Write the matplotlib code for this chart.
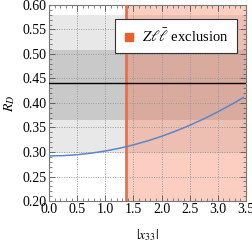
import matplotlib

matplotlib.use("Agg")
import matplotlib.pyplot as plt
from matplotlib.lines import Line2D
from matplotlib.ticker import MultipleLocator

# Theory curve
x33 = [0.0, 0.25, 0.5, 0.75, 1.0, 1.25, 1.5, 1.75, 2.0, 2.25, 2.5, 2.75, 3.0, 3.25, 3.45]
r_d = [0.292, 0.2926, 0.2945, 0.2976, 0.302, 0.3076, 0.3145, 0.3226, 0.332, 0.3426, 0.3545, 0.3676, 0.382, 0.3976, 0.411]

# Experimental average and bands
rd_central = 0.44
band_1sigma = (0.366, 0.508)
band_2sigma = (0.297, 0.580)

# Z l lbar exclusion starts here
x_excl = 1.36
x_max = 3.5

plt.rcParams["font.family"] = ["Liberation Serif", "DejaVu Serif"]
plt.rcParams["mathtext.fontset"] = "stix"

fig = plt.figure(figsize=(2.53, 2.43), dpi=100)
ax = fig.add_axes([49 / 253, 42 / 243, 197 / 253, 196 / 243])

ax.axhspan(*band_2sigma, color="#e8e8e8", lw=0, zorder=0)
ax.axhspan(*band_1sigma, color="#c9c9c9", lw=0, zorder=0.1)
ax.axvspan(x_excl, x_max, color="#f8754f", alpha=0.35, lw=0, zorder=0.5)
ax.axvline(x_excl, color="#e8704c", lw=2.0, zorder=3)
ax.axhline(rd_central, color="black", lw=1.0, zorder=3)
ax.plot(x33, r_d, color="#5b86c9", lw=1.1, zorder=4)

ax.set_xlim(0, x_max)
ax.set_ylim(0.20, 0.60)
ax.xaxis.set_major_locator(MultipleLocator(0.5))
ax.xaxis.set_minor_locator(MultipleLocator(0.1))
ax.yaxis.set_major_locator(MultipleLocator(0.05))
ax.yaxis.set_minor_locator(MultipleLocator(0.01))
ax.set_xticklabels([f"{v:.1f}" for v in ax.get_xticks()])
ax.set_yticklabels([f"{v:.2f}" for v in ax.get_yticks()])
ax.tick_params(which="both", direction="in", top=True, right=True, labelsize=10, pad=1.5, color="#555555")
ax.tick_params(which="major", length=4, width=0.6)
ax.tick_params(which="minor", length=2, width=0.5)
ax.grid(True, which="major", color="#9a9a9a", ls=(0, (1, 1.5)), lw=0.7, zorder=1)
for spine in ax.spines.values():
    spine.set_color("#777777")
    spine.set_linewidth(0.8)

ax.set_xlabel(r"$|x_{33}|$", fontsize=10, labelpad=8)
ax.set_ylabel(r"$R_D$", fontsize=10, labelpad=4)

handle = Line2D([], [], marker="s", ls="none", color="#e8602c", markersize=6)
leg = ax.legend([handle], [r"$Z\ell\bar{\ell}$ exclusion"], loc="upper right",
                fontsize=10.5, frameon=True, fancybox=False, handlelength=0.8,
                handletextpad=0.5, borderpad=0.55, bbox_to_anchor=(0.99, 0.965))
leg.get_frame().set_edgecolor("#333333")
leg.get_frame().set_linewidth(0.8)
leg.get_frame().set_alpha(1.0)
leg.set_zorder(5)

fig.savefig("out.png", dpi=100)
